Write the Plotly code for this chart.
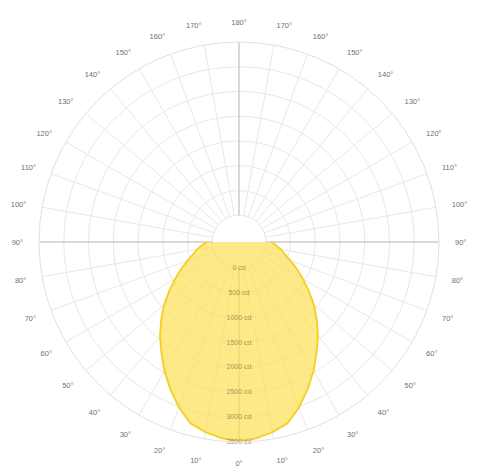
import plotly.graph_objects as go

# Luminous intensity (cd) vs angle from nadir (deg), one half-plane
angles = [0, 5, 10, 15, 20, 25, 30, 35, 40, 45, 50, 55, 60, 65, 70, 75, 80, 85, 90]
intensity = [3480, 3440, 3360, 3250, 3010, 2740, 2470, 2190, 1940, 1680, 1435, 1180, 950, 750, 570, 420, 320, 210, 110]

radial_ticks = [0, 500, 1000, 1500, 2000, 2500, 3000, 3500]
radial_labels = [f"{v} cd" for v in radial_ticks]

angle_ticks = list(range(0, 360, 10))
angle_labels = [f"{t if t <= 180 else 360 - t}°" for t in angle_ticks]

# full curve from -90 .. 90 (left half mirrored)
theta_full = [360 - a for a in angles[::-1]] + angles[1:]
r_full = intensity[::-1] + intensity[1:]

R_MIN = -540  # empty centre region
R_MAX = 3500

fig = go.Figure()

# white centre disc (covers spokes inside the zero circle)
disc_theta = list(range(0, 361, 2))
fig.add_trace(go.Scatterpolar(
    r=[0] * len(disc_theta), theta=disc_theta, mode="lines",
    fill="toself", fillcolor="white",
    line=dict(color="#e4e4e4", width=1),
    hoverinfo="skip", showlegend=False))

# axis cross lines
for th in [0, 90, 180, 270]:
    fig.add_trace(go.Scatterpolar(
        r=[0, R_MAX], theta=[th, th], mode="lines",
        line=dict(color="rgba(185,185,185,0.9)", width=1),
        hoverinfo="skip", showlegend=False))

fig.add_trace(go.Scatterpolar(
    r=r_full, theta=theta_full, mode="lines",
    fill="toself", fillcolor="rgba(252,222,80,0.68)",
    line=dict(color="#F6D02C", width=2),
    showlegend=False, hoverinfo="skip"))

fig.add_trace(go.Scatterpolar(
    r=radial_ticks, theta=[0] * len(radial_ticks), mode="text",
    text=radial_labels,
    textfont=dict(size=7, color="rgba(120,110,60,0.7)", family="Liberation Sans"),
    cliponaxis=False, showlegend=False, hoverinfo="skip"))

fig.update_layout(
    width=477, height=472,
    margin=dict(l=31, r=46, t=33, b=37),
    paper_bgcolor="white",
    font=dict(family="Liberation Sans", size=7.5, color="#707070"),
    polar=dict(
        bgcolor="white",
        radialaxis=dict(
            range=[R_MIN, R_MAX], tickvals=radial_ticks, showticklabels=False,
            gridcolor="#e8e8e8", gridwidth=1, showline=False, ticks=""),
        angularaxis=dict(
            rotation=270, direction="counterclockwise",
            tickvals=angle_ticks, ticktext=angle_labels,
            gridcolor="#e8e8e8", gridwidth=1,
            showline=True, linecolor="#e0e0e0", linewidth=1,
            ticks="outside", ticklen=14, tickcolor="rgba(0,0,0,0)",
            tickfont=dict(size=7.5, color="#707070")),
    ),
)

fig.write_html("out.html")
